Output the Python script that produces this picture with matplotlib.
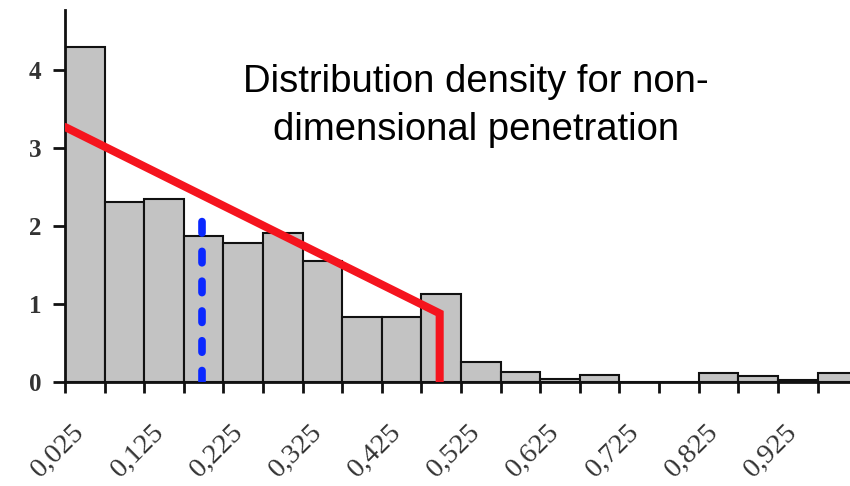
import matplotlib.pyplot as plt
import matplotlib.transforms as mtransforms
import numpy as np

# histogram bins (left edges) and density values
bin_left = [0.00, 0.05, 0.10, 0.15, 0.20, 0.25, 0.30, 0.35, 0.40, 0.45,
            0.50, 0.55, 0.60, 0.65, 0.70, 0.75, 0.80, 0.85, 0.90, 0.95]
density = [4.30, 2.31, 2.35, 1.87, 1.78, 1.91, 1.55, 0.83, 0.83, 1.13,
           0.26, 0.13, 0.04, 0.09, 0.0, 0.0, 0.11, 0.08, 0.03, 0.12]
bin_width = 0.05

tick_pos = [0.0, 0.1, 0.2, 0.3, 0.4, 0.5, 0.6, 0.7, 0.8, 0.9]
tick_labels = ["0,025", "0,125", "0,225", "0,325", "0,425",
               "0,525", "0,625", "0,725", "0,825", "0,925"]

# linear fit drawn over the histogram, with cut-off
fit_x = [0.0, 0.473, 0.473]
fit_y = [3.27, 0.88, 0.0]

# mean marker
mean_x = 0.173
mean_top = 2.2

fig = plt.figure(figsize=(8.5, 4.86), dpi=100)
ax = fig.add_axes([65 / 850, 104 / 486, 785 / 850, 372 / 486])

ax.bar(bin_left, density, width=bin_width, align="edge",
       color="#c3c3c3", edgecolor="#111111", linewidth=1.5, zorder=2)

ax.plot(fit_x, fit_y, color="#f5141e", linewidth=5.8,
        solid_capstyle="round", solid_joinstyle="miter", zorder=4)
ax.plot([mean_x, mean_x], [0, mean_top], color="#0a28ff", linewidth=5.5,
        dashes=(1.5, 2.4), dash_capstyle="round", zorder=3)

ax.set_xlim(0, 0.991)
ax.set_ylim(0, 4.77)

# every bin edge gets a tick, every second one a label
ax.xaxis.remove_overlapping_locs = False
ax.set_xticks(np.arange(0, 0.96, 0.05))
ax.set_xticklabels([])
ax.set_xticks(tick_pos, minor=True)
ax.set_xticklabels(tick_labels, minor=True, rotation=45, ha="right",
                   rotation_mode="anchor", fontsize=20.5,
                   family="Liberation Serif", color="#333333")
ax.tick_params(axis="x", which="major", length=8, width=2, color="#111111")
ax.tick_params(axis="x", which="minor", length=0, pad=27)
shift = mtransforms.ScaledTranslation(7 / 100, 0, fig.dpi_scale_trans)
for lbl in ax.get_xticklabels(minor=True):
    lbl.set_transform(lbl.get_transform() + shift)

ax.set_yticks([0, 1, 2, 3, 4])
ax.set_yticklabels(["0", "1", "2", "3", "4"], fontsize=18,
                   family="Liberation Serif", fontweight="bold",
                   color="#333333")
ax.tick_params(axis="y", length=9, width=2, color="#111111", pad=8)

for side in ["top", "right"]:
    ax.spines[side].set_visible(False)
for side in ["left", "bottom"]:
    ax.spines[side].set_linewidth(2)
    ax.spines[side].set_color("#111111")

fig.text(476 / 850, 1 - 92 / 486, "Distribution density for non-",
         ha="center", va="baseline", fontsize=27.5, family="Liberation Sans")
fig.text(476 / 850, 1 - 140 / 486, "dimensional penetration",
         ha="center", va="baseline", fontsize=27.5, family="Liberation Sans")

fig.savefig("out.png", dpi=100)
